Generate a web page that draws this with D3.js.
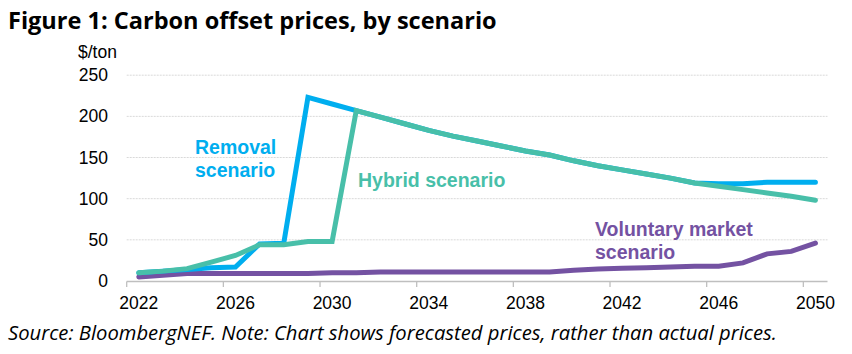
<!DOCTYPE html>
<html><head><meta charset="utf-8">
<script src="https://cdn.jsdelivr.net/npm/d3@7"></script>
<style>body{margin:0;background:#fff}</style>
</head><body>
<svg id="c" width="852" height="354"></svg>
<script>
const years = d3.range(2022, 2051);
const removal = [10,12,14,16,17,45,46,223,215,207,199,191,183,176,170,164,158,153,146,140,135,130,125,119,118,118,120,120,120];
const hybrid  = [10,12,15,23,31,44,44,48,48,207,199,191,183,176,170,164,158,153,146,140,135,130,125,119,115,111,107,103,98];
const voluntary = [5,7,9,9,9,9,9,9,10,10,11,11,11,11,11,11,11,11,13,14.5,15.5,16,17,18,18,22,33,36,46];
const yTicks = [0,50,100,150,200,250];
const xLabels = [2022,2026,2030,2034,2038,2042,2046,2050];

const svg = d3.select("#c");
const x = d3.scaleBand().domain(years).range([126.7, 827.5]);
const y = d3.scaleLinear().domain([0,250]).range([281, 75.2]);

svg.append("g").selectAll("line").data(yTicks.filter(d=>d>0)).join("line")
  .attr("x1",126.7).attr("x2",827.5).attr("y1",d=>y(d)).attr("y2",d=>y(d))
  .attr("stroke","#d9d9d9").attr("stroke-width",1).attr("stroke-dasharray","2,1");

svg.append("g").selectAll("text").data(yTicks).join("text")
  .attr("x",108).attr("y",d=>y(d)+6).attr("text-anchor","end")
  .attr("font-family","Liberation Sans, Arial, sans-serif").attr("font-size",17.5).attr("fill","#000")
  .text(d=>d);
svg.append("text").attr("x",78).attr("y",58).attr("font-family","Liberation Sans, Arial, sans-serif")
  .attr("font-size",17.5).attr("fill","#000").text("$/ton");

svg.append("line").attr("x1",126.7).attr("x2",827.5).attr("y1",281.5).attr("y2",281.5).attr("stroke","#bfbfbf").attr("stroke-width",1.3);
svg.append("g").selectAll("line").data(xLabels).join("line")
  .attr("x1",d=>x(d)).attr("x2",d=>x(d)).attr("y1",281.5).attr("y2",287)
  .attr("stroke","#bfbfbf").attr("stroke-width",1.3);
svg.append("g").selectAll("text").data(xLabels).join("text")
  .attr("x",d=>x(d)+x.bandwidth()/2).attr("y",309).attr("text-anchor","middle")
  .attr("font-family","Liberation Sans, Arial, sans-serif").attr("font-size",17.5).attr("fill","#000")
  .text(d=>d);

const line = d3.line().x((d,i)=>x(years[i])+x.bandwidth()/2).y(d=>y(d));
const series = [
  {v: voluntary, c:"#7452a2"},
  {v: removal, c:"#00aeef"},
  {v: hybrid, c:"#48bfa9"}
];
svg.append("g").selectAll("path").data(series).join("path")
  .attr("d",d=>line(d.v)).attr("fill","none").attr("stroke",d=>d.c)
  .attr("stroke-width",5).attr("stroke-linejoin","miter").attr("stroke-linecap","round");

const ann = (t,xx,yy,c)=>svg.append("text").attr("x",xx).attr("y",yy).attr("fill",c)
  .attr("font-family","Liberation Sans, Arial, sans-serif").attr("font-weight","bold").attr("font-size",19.5).text(t);
ann("Removal",195,154,"#00aeef");
ann("scenario",195,177,"#00aeef");
ann("Hybrid scenario",358,187,"#48bfa9");
ann("Voluntary market",595,236,"#7452a2");
ann("scenario",595,259,"#7452a2");

function fitText(sel, target){
  const w = sel.node().getComputedTextLength();
  const fs = +sel.attr("font-size");
  sel.attr("font-size", fs*target/w);
}
const title = svg.append("text").attr("x",8).attr("y",29).attr("font-family","'Open Sans', Lato, sans-serif")
  .attr("font-weight","bold").attr("font-size",22).attr("fill","#000")
  .text("Figure 1: Carbon offset prices, by scenario");
fitText(title, 489);
const src = svg.append("text").attr("x",8).attr("y",340).attr("font-family","'Open Sans', Lato, sans-serif")
  .attr("font-style","italic").attr("font-size",17).attr("fill","#000")
  .text("Source: BloombergNEF. Note: Chart shows forecasted prices, rather than actual prices.");
fitText(src, 769);
</script>
</body></html>
